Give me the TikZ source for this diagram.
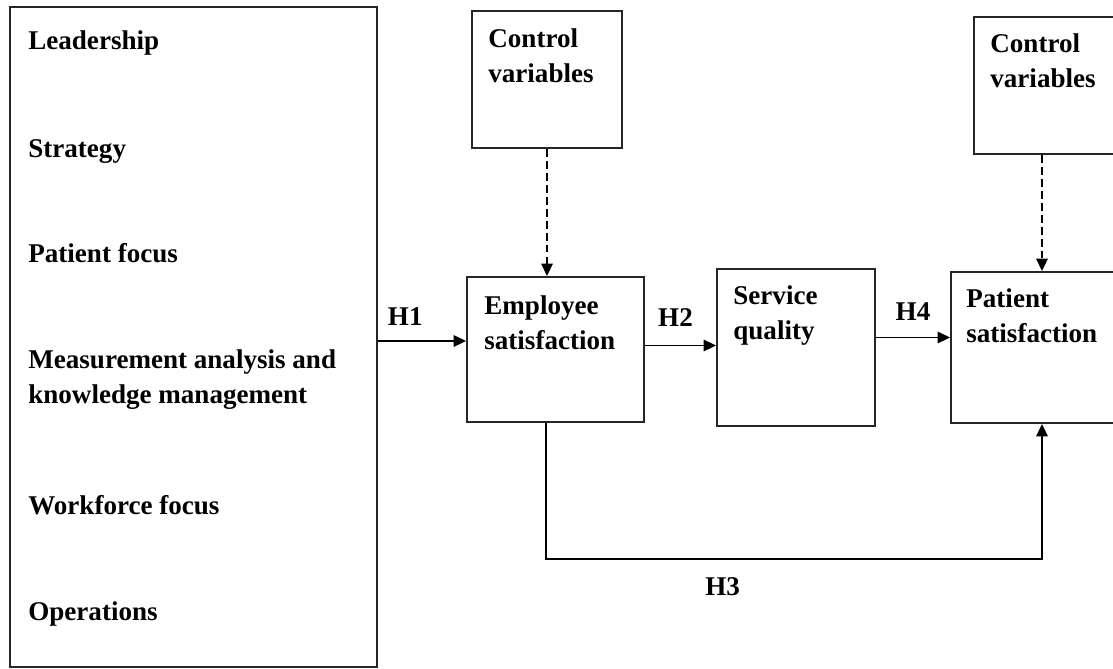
\documentclass[tikz,border=0pt]{standalone}
\usepackage{fontspec}
\setmainfont{Liberation Serif}
\usetikzlibrary{arrows.meta,positioning}

\begin{document}
\begin{tikzpicture}[
  every node/.style={font=\fontsize{15.4}{19.9}\selectfont\bfseries},
  box/.style={draw=black!85,line width=1.1pt,inner sep=0pt},
  txt/.style={align=left,inner sep=0pt,anchor=north west},
  item/.style={inner sep=0pt,anchor=base west,align=left},
  hyp/.style={inner sep=0pt},
  arr/.style={line width=0.85pt,-{Triangle[length=7pt,width=6.5pt]}},
  dasharr/.style={arr,dash pattern=on 4.5pt off 2.3pt}
]
\clip (0,0) rectangle (22.26,-13.36);
% boxes
\node[box,minimum width=7.34cm,minimum height=13.2cm] (tqm) at (3.87,-6.74) {};
\node[box,minimum width=3.0cm,minimum height=2.74cm]  (cv1) at (10.94,-1.59) {};
\node[box,minimum width=3.54cm,minimum height=2.9cm]  (emp) at (11.11,-6.99) {};
\node[box,minimum width=3.16cm,minimum height=3.14cm] (sq)  at (15.92,-6.95) {};
\node[box,minimum width=3.58cm,minimum height=3.02cm] (ps)  at (20.81,-6.95) {};
\node[box,minimum width=3.12cm,minimum height=2.74cm] (cv2) at (21.04,-1.71) {};
% criteria in the left box
\node[item] (lead) at (0.56,-0.98)  {Leadership};
\node[item] (strat) at (0.56,-3.14) {Strategy};
\node[item] (pfoc) at (0.56,-5.24)  {Patient focus};
\node[item] (meas) at (0.56,-7.36)  {Measurement analysis and};
\node[item] (know) at (0.56,-8.06)  {knowledge management};
\node[item] (wfoc) at (0.56,-10.28) {Workforce focus};
\node[item] (oper) at (0.56,-12.40) {Operations};
% box texts
\node[txt] (cv1t) at ([shift={(0.34,-0.36)}]cv1.north west) {Control\\variables};
\node[txt] (empt) at ([shift={(0.36,-0.38)}]emp.north west) {Employee\\satisfaction};
\node[txt] (sqt)  at ([shift={(0.34,-0.34)}]sq.north west)  {Service\\quality};
\node[txt] (pst)  at ([shift={(0.32,-0.34)}]ps.north west)  {Patient\\satisfaction};
\node[txt] (cv2t) at ([shift={(0.34,-0.34)}]cv2.north west) {Control\\variables};
% hypotheses
\draw[arr] ([yshift=-0.08cm]tqm.east) -- ([yshift=-0.08cm]tqm.east -| emp.west)
  node[hyp,pos=0.31,above=0.3cm] (h1) {H1};
\draw[arr] ([yshift=0.08cm]emp.east) -- ([yshift=0.08cm]emp.east -| sq.west)
  node[hyp,pos=0.43,above=0.36cm] (h2) {H2};
\draw[arr] ([yshift=0.2cm]sq.east) -- ([yshift=0.2cm]sq.east -| ps.west)
  node[hyp,pos=0.5,above=0.32cm] (h4) {H4};
\draw[arr] ([xshift=-0.19cm]emp.south) -- ++(0,-2.72)
  -| ([xshift=-0.2cm]cv2.south |- ps.south)
  node[hyp,pos=0.178,below=0.36cm] (h3) {H3};
% control variables
\draw[dasharr] (cv1.south) -- (cv1.south |- emp.north);
\draw[dasharr] ([xshift=-0.2cm]cv2.south) -- ([xshift=-0.2cm]cv2.south |- ps.north);
\end{tikzpicture}
\end{document}
